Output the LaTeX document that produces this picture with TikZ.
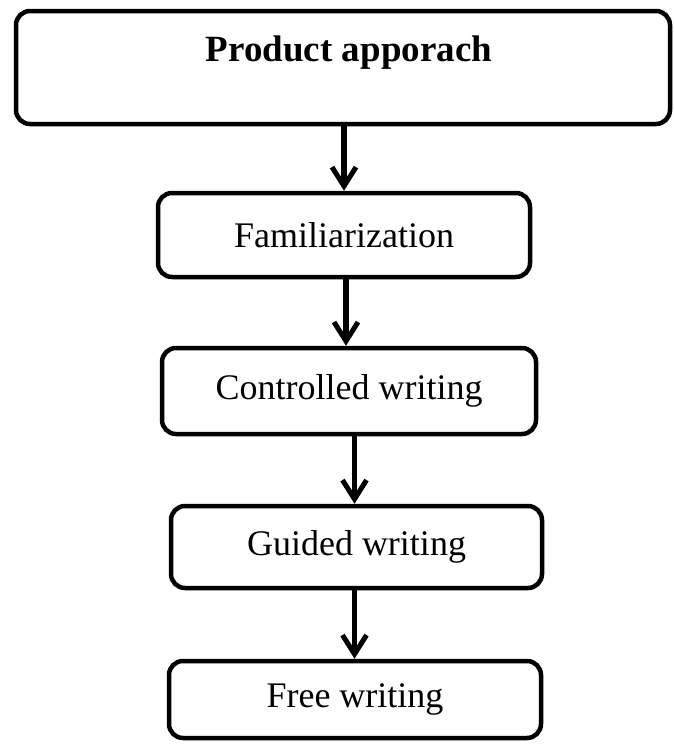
\documentclass[tikz,border=0pt]{standalone}
\usepackage{fontspec}
\setmainfont{Liberation Serif}
\usetikzlibrary{arrows.meta}
\begin{document}
\begin{tikzpicture}[x=1pt,y=1pt,
  box/.style={draw=black, line width=4.5pt, rounded corners=14pt, rectangle, inner sep=0pt,
    font=\fontsize{36}{40}\selectfont},
  arr/.style={line width=5.5pt, -{Straight Barb[length=19pt,width=24pt,line width=5pt]}},
  lbl/.style={font=\fontsize{36}{40}\selectfont, inner sep=0pt}]
\useasboundingbox (0,0) rectangle (673,-744);
\node[box, minimum width=654pt, minimum height=113pt] (top) at (343,-67.5) {};
\node[lbl, font=\fontsize{37}{40}\selectfont\bfseries] (toptext) at (349,-53) {Product apporach};
\node[box, minimum width=372pt, minimum height=84pt] (fam) at (344,-235) {Familiarization};
\node[box, minimum width=374pt, minimum height=86pt] (ctrl) at (349,-391) {Controlled writing};
\node[box, minimum width=371pt, minimum height=82pt] (guid) at (356.5,-547) {Guided writing};
\node[box, minimum width=372pt, minimum height=77pt] (free) at (355,-699.5) {Free writing};
\draw[arr] (top.south -| fam.north) -- (fam.north);
\draw[arr] ([xshift=-3pt]fam.south -| ctrl.north) -- ([xshift=-3pt]ctrl.north);
\draw[arr] ([xshift=-2pt]ctrl.south -| guid.north) -- ([xshift=-2pt]guid.north);
\draw[arr] ([xshift=-2pt]guid.south -| guid.north) -- ([xshift=-2pt]free.north -| guid.north);
\end{tikzpicture}
\end{document}
